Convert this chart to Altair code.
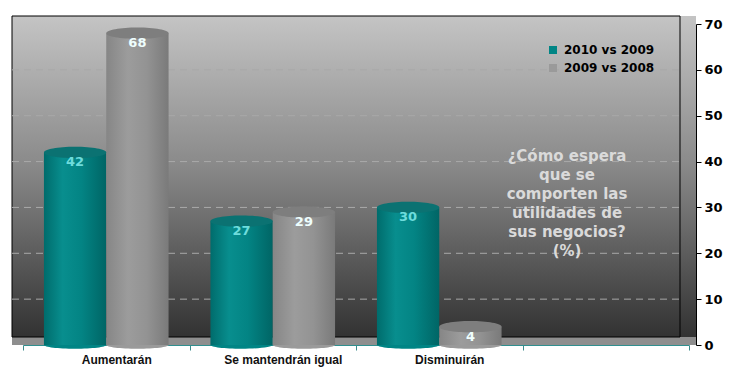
import altair as alt
import pandas as pd

categories = ["Aumentarán", "Se mantendrán igual", "Disminuirán", " "]
series = ["2010 vs 2009", "2009 vs 2008"]
values_2010 = [42, 27, 30]
values_2009 = [68, 29, 4]
grid_values = [10, 20, 30, 40, 50, 60]
y_ticks = [0, 10, 20, 30, 40, 50, 60, 70]
note_lines = ["¿Cómo espera", "que se", "comporten las", "utilidades de", "sus negocios?", "(%)"]

rows = []
for c, v in zip(categories[:3], values_2010):
    rows.append({"cat": c, "series": series[0], "value": v})
for c, v in zip(categories[:3], values_2009):
    rows.append({"cat": c, "series": series[1], "value": v})
df = pd.DataFrame(rows)
grid_df = pd.DataFrame({"value": grid_values})
one = pd.DataFrame({"k": [0]})

LEFT = 22
W, H = 666, 321
SHIFT = 7
WALL_L = -(8 + LEFT - 12)
WALL_R = W - 16

x_enc = alt.X(
    "cat:N",
    sort=categories,
    scale=alt.Scale(domain=categories, range=[-SHIFT, W - SHIFT], paddingInner=0, paddingOuter=0),
    axis=alt.Axis(
        title=None, labelAngle=0, tickBand="extent", tickOffset=SHIFT, labelOffset=SHIFT + 3,
        labelFont="Liberation Sans", labelFontSize=12, labelFontWeight="bold", labelColor="#111111",
        tickColor="#3a8a8a", tickSize=5, domainColor="#2f8f8f", labelPadding=4,
    ),
)
xoff = alt.XOffset("series:N", sort=series,
                   scale=alt.Scale(domain=series, paddingInner=0, paddingOuter=0.336))
y_scale = alt.Scale(domain=[0, 70], nice=False, zero=True)
y_axis = alt.Axis(
    orient="right", title=None, values=y_ticks, grid=False,
    labelFont="DejaVu Sans", labelFontSize=13, labelFontWeight="bold", labelColor="#000000",
    tickColor="#000000", domainColor="#000000", tickSize=5, labelPadding=3,
)
y_enc = alt.Y("value:Q", scale=y_scale, axis=y_axis)

bg_grad = alt.Gradient(
    gradient="linear", x1=0, x2=0, y1=0, y2=1,
    stops=[alt.GradientStop(offset=0, color="#c4c4c4"),
           alt.GradientStop(offset=0.45, color="#8a8a8a"),
           alt.GradientStop(offset=1, color="#2e2e2e")],
)
background = alt.Chart(one).mark_rect(fill=bg_grad).encode(
    x=alt.value(WALL_L), x2=alt.value(W), y=alt.value(-8), y2=alt.value(H)
)
floor = alt.Chart(one).mark_rect(fill="#8e8e8e").encode(
    x=alt.value(WALL_L), x2=alt.value(W), y=alt.value(H - 8), y2=alt.value(H)
)
outline = alt.Chart(one).mark_rect(fill=None, stroke="#000000", strokeWidth=1).encode(
    x=alt.value(WALL_L), x2=alt.value(WALL_R), y=alt.value(-8), y2=alt.value(H - 8)
)

grid = alt.Chart(grid_df).mark_rule(color="#a9a9a9", strokeDash=[7, 5], strokeWidth=1).encode(
    y=y_enc, x=alt.value(WALL_L), x2=alt.value(WALL_R)
)

teal_grad = alt.Gradient(
    gradient="linear", x1=0, x2=1, y1=0, y2=0,
    stops=[alt.GradientStop(offset=0, color="#006c6c"),
           alt.GradientStop(offset=0.3, color="#088e8e"),
           alt.GradientStop(offset=0.6, color="#038484"),
           alt.GradientStop(offset=1, color="#006565")],
)
gray_grad = alt.Gradient(
    gradient="linear", x1=0, x2=1, y1=0, y2=0,
    stops=[alt.GradientStop(offset=0, color="#868686"),
           alt.GradientStop(offset=0.35, color="#9c9c9c"),
           alt.GradientStop(offset=0.65, color="#939393"),
           alt.GradientStop(offset=1, color="#7a7a7a")],
)

ELL = "M -1 0 A 1 0.18 0 1 0 1 0 A 1 0.18 0 1 0 -1 0 Z"
ELL_BOTTOM = "M -1 0 A 1 0.12 0 1 0 1 0 Z"
SIZE = 3880

bottoms = alt.Chart(df).transform_calculate(base="0").mark_point(
    shape=ELL_BOTTOM, size=SIZE, filled=True, opacity=1, strokeWidth=0
).encode(
    x=x_enc, xOffset=xoff, y=alt.Y("base:Q", scale=y_scale, axis=y_axis),
    color=alt.Color("series:N", sort=series,
                    scale=alt.Scale(domain=series, range=["#008585", "#9a9a9a"]),
                    legend=alt.Legend(title=None, orient="none", legendX=517, legendY=20,
                                      symbolType="square", symbolSize=64, symbolStrokeWidth=0,
                                      labelFont="DejaVu Sans", labelFontSize=12,
                                      labelFontWeight="bold", labelColor="#000000",
                                      rowPadding=6, labelOffset=5)),
)

bars_teal = alt.Chart(df).transform_filter(alt.datum.series == series[0]).mark_bar(
    fill=teal_grad, strokeWidth=0).encode(x=x_enc, xOffset=xoff, y=y_enc)
bars_gray = alt.Chart(df).transform_filter(alt.datum.series == series[1]).mark_bar(
    fill=gray_grad, strokeWidth=0).encode(x=x_enc, xOffset=xoff, y=y_enc)

tops = alt.Chart(df).mark_point(shape=ELL, size=SIZE, filled=True, opacity=1, strokeWidth=0).encode(
    x=x_enc, xOffset=xoff, y=y_enc,
    fill=alt.condition(alt.datum.series == series[0], alt.value("#0b7272"), alt.value("#7e7e7e")),
)

labels = alt.Chart(df).mark_text(
    font="DejaVu Sans", fontSize=13, fontWeight="bold", dy=10, baseline="middle"
).encode(
    x=x_enc, xOffset=xoff, y=y_enc, text="value:Q",
    color=alt.condition(alt.datum.series == series[0], alt.value("#6edcdc"), alt.value("#eefefe")),
)

note = alt.Chart(one).mark_text(
    text=note_lines, font="DejaVu Sans", fontSize=15, fontWeight="bold", color="#dadada",
    lineHeight=19, align="center", baseline="top",
).encode(x=alt.value(537), y=alt.value(125))

chart = alt.layer(
    background, floor, outline, grid, bottoms, bars_teal, bars_gray, tops, labels, note
).properties(
    width=W, height=H,
    autosize=alt.AutoSizeParams(type="none"),
    padding={"left": LEFT, "top": 16, "right": 30, "bottom": 28},
    background="#ffffff",
).configure_view(stroke=None)

chart.save("out.html", embed_options={"renderer": "svg", "actions": False})
